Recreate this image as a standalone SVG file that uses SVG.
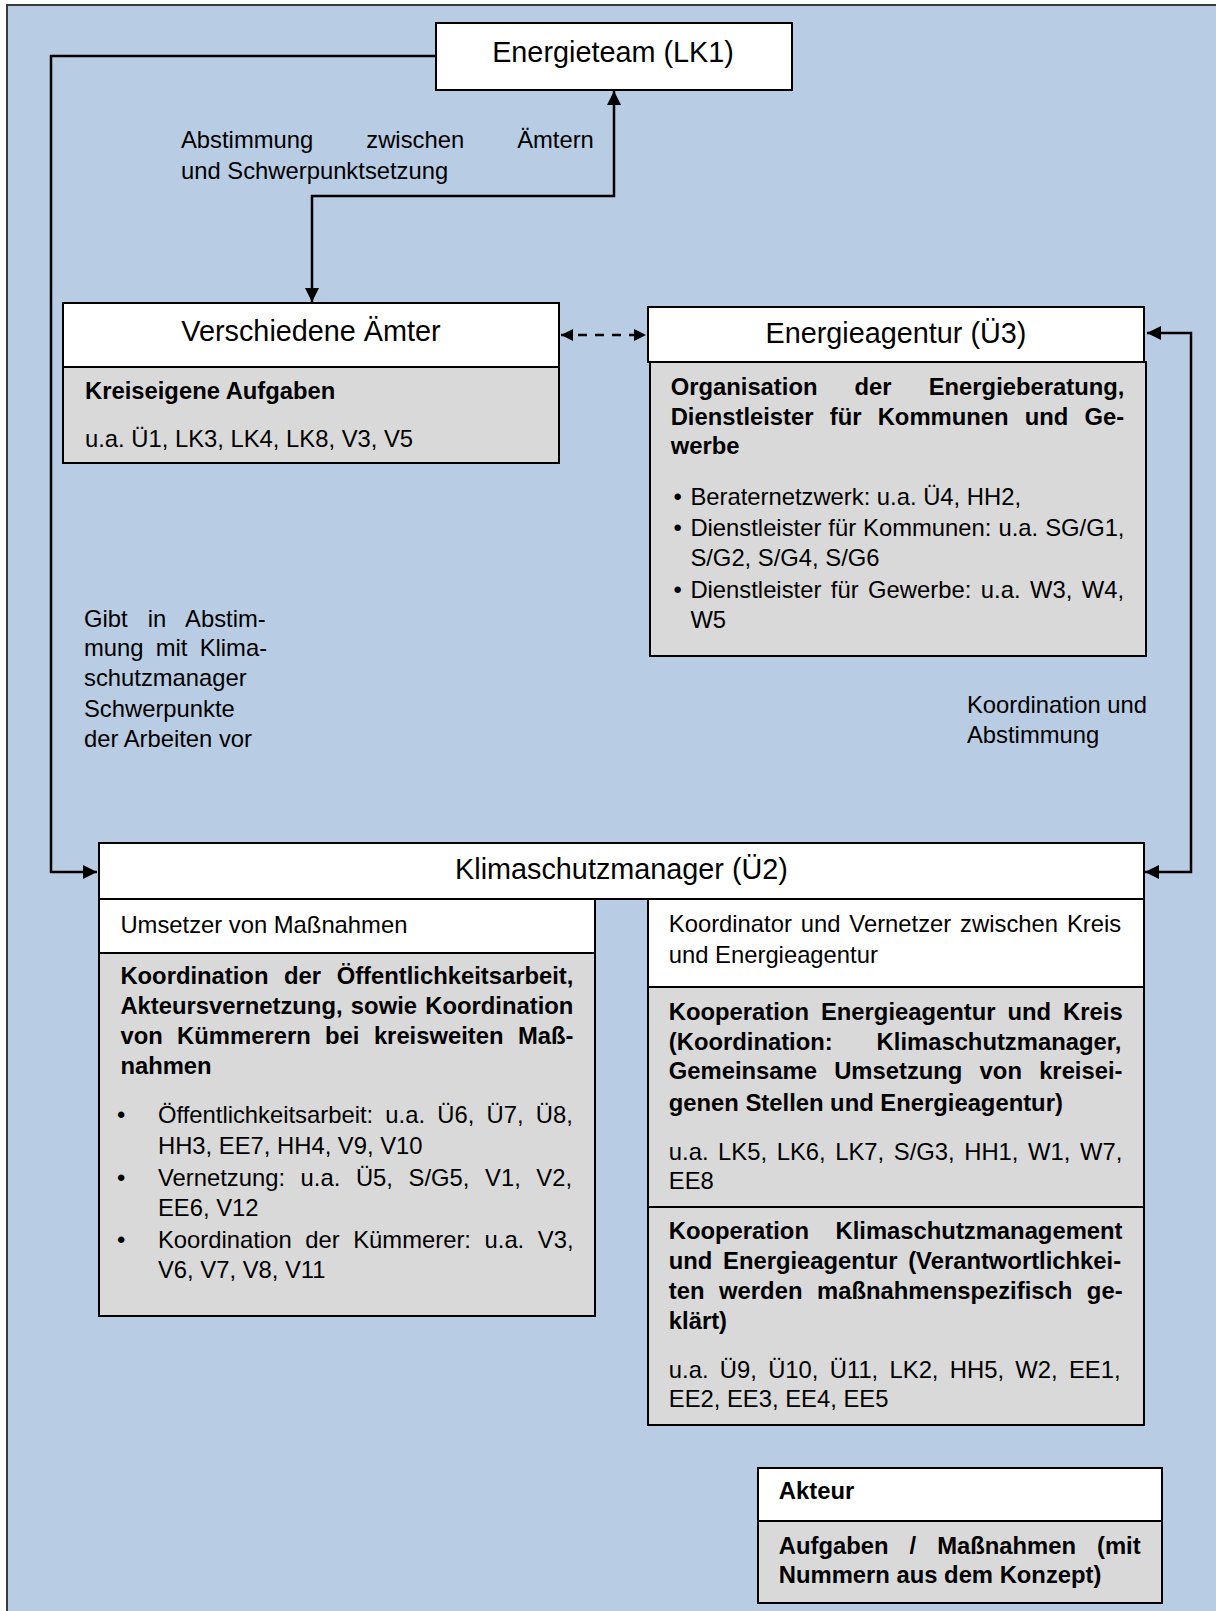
<svg xmlns="http://www.w3.org/2000/svg" width="1216" height="1611" viewBox="0 0 1216 1611">
<style>
text{font-family:"Liberation Sans",Arial,sans-serif;fill:#000}
.t{font-size:28.8px}
.b{font-size:23.8px}
.bb{font-size:23.8px;font-weight:bold}
.mid{text-anchor:middle}
.hd{fill:#fff;stroke:#000;stroke-width:2}
.bd{fill:#d9d9d9;stroke:#000;stroke-width:2}
.ln{fill:none;stroke:#000;stroke-width:2.5}
.ds{fill:none;stroke:#000;stroke-width:2.5;stroke-dasharray:9 8}
</style>
<defs>
<marker id="ah" viewBox="0 0 10 10" refX="10" refY="5" markerWidth="15" markerHeight="14" markerUnits="userSpaceOnUse" orient="auto-start-reverse">
<path d="M0,0 L10,5 L0,10 z" fill="#000"/>
</marker>
<marker id="ahs" viewBox="0 0 10 10" refX="10" refY="5" markerWidth="12" markerHeight="12" markerUnits="userSpaceOnUse" orient="auto-start-reverse">
<path d="M0,0 L10,5 L0,10 z" fill="#000"/>
</marker>
</defs>
<rect x="7" y="5" width="1240" height="1640" fill="#b8cce4" stroke="#3a3a3a" stroke-width="2"/>

<g id="connectors">
<path class="ln" d="M436,56 L51,56 L51,872 L97,872" marker-end="url(#ah)"/>
<path class="ln" d="M312,302 L312,196 L614,196 L614,91" marker-start="url(#ah)" marker-end="url(#ah)"/>
<path class="ds" d="M561,335 L646,335" marker-start="url(#ahs)" marker-end="url(#ahs)"/>
<path class="ln" d="M1147,333 L1191,333 L1191,872 L1145,872" marker-start="url(#ah)" marker-end="url(#ah)"/>
<text class="b" x="181" y="148" word-spacing="46.4">Abstimmung zwischen Ämtern</text>
<text class="b" x="181" y="179">und Schwerpunktsetzung</text>
<text class="b" x="84" y="627" word-spacing="13.5">Gibt in Abstim-</text>
<text class="b" x="84" y="656" word-spacing="5.6">mung mit Klima-</text>
<text class="b" x="84" y="686">schutzmanager</text>
<text class="b" x="84" y="716.5">Schwerpunkte</text>
<text class="b" x="84" y="746.5">der Arbeiten vor</text>
<text class="b" x="967" y="713">Koordination und</text>
<text class="b" x="967" y="743">Abstimmung</text>
</g>

<g id="energieteam">
<rect class="hd" x="436" y="23" width="356" height="67"/>
<text class="t mid" x="613" y="62">Energieteam (LK1)</text>
</g>

<g id="aemter">
<rect class="hd" x="63" y="303" width="496" height="64"/>
<rect class="bd" x="63" y="367" width="496" height="96"/>
<text class="t mid" x="311" y="341">Verschiedene Ämter</text>
<text class="bb" x="85" y="399">Kreiseigene Aufgaben</text>
<text class="b" x="85" y="447">u.a. Ü1, LK3, LK4, LK8, V3, V5</text>
</g>

<g id="energieagentur">
<rect class="hd" x="648" y="307" width="496" height="55"/>
<rect class="bd" x="650" y="362" width="496" height="294"/>
<text class="t mid" x="896" y="343">Energieagentur (Ü3)</text>
<text class="bb" x="670.7" y="395" word-spacing="30.5">Organisation der Energieberatung,</text>
<text class="bb" x="670.7" y="424.5" word-spacing="9.6">Dienstleister für Kommunen und Ge-</text>
<text class="bb" x="670.7" y="454">werbe</text>
<text class="b" x="673.5" y="505">•</text>
<text class="b" x="690.4" y="505">Beraternetzwerk: u.a. Ü4, HH2,</text>
<text class="b" x="673.5" y="536">•</text>
<text class="b" x="690.4" y="536" word-spacing="0.4">Dienstleister für Kommunen: u.a. SG/G1,</text>
<text class="b" x="690.4" y="566">S/G2, S/G4, S/G6</text>
<text class="b" x="673.5" y="598">•</text>
<text class="b" x="690.4" y="598" word-spacing="2.9">Dienstleister für Gewerbe: u.a. W3, W4,</text>
<text class="b" x="690.4" y="628">W5</text>
</g>

<g id="klimaschutzmanager">
<rect class="hd" x="99" y="843" width="1045" height="56"/>
<text class="t mid" x="621.5" y="879">Klimaschutzmanager (Ü2)</text>
</g>

<g id="umsetzer">
<rect class="hd" x="99" y="899" width="496" height="54"/>
<rect class="bd" x="99" y="953" width="496" height="363"/>
<text class="b" x="120.4" y="933">Umsetzer von Maßnahmen</text>
<text class="bb" x="120.4" y="984" word-spacing="9">Koordination der Öffentlichkeitsarbeit,</text>
<text class="bb" x="120.4" y="1014" word-spacing="1.7">Akteursvernetzung, sowie Koordination</text>
<text class="bb" x="120.4" y="1043.5" word-spacing="7.8">von Kümmerern bei kreisweiten Maß-</text>
<text class="bb" x="120.4" y="1074">nahmen</text>
<text class="b" x="117" y="1123">•</text>
<text class="b" x="158" y="1123" word-spacing="5.6">Öffentlichkeitsarbeit: u.a. Ü6, Ü7, Ü8,</text>
<text class="b" x="158" y="1153.5">HH3, EE7, HH4, V9, V10</text>
<text class="b" x="117" y="1186">•</text>
<text class="b" x="158" y="1186" word-spacing="9">Vernetzung: u.a. Ü5, S/G5, V1, V2,</text>
<text class="b" x="158" y="1216">EE6, V12</text>
<text class="b" x="117" y="1248">•</text>
<text class="b" x="158" y="1248" word-spacing="7">Koordination der Kümmerer: u.a. V3,</text>
<text class="b" x="158" y="1278">V6, V7, V8, V11</text>
</g>

<g id="koordinator">
<rect class="hd" x="648" y="899" width="496" height="88"/>
<rect class="bd" x="648" y="987" width="496" height="220"/>
<rect class="bd" x="648" y="1207" width="496" height="218"/>
<text class="b" x="668.8" y="932" word-spacing="2.3">Koordinator und Vernetzer zwischen Kreis</text>
<text class="b" x="668.8" y="963">und Energieagentur</text>
<text class="bb" x="668.8" y="1020" word-spacing="5.4">Kooperation Energieagentur und Kreis</text>
<text class="bb" x="668.8" y="1049.5" word-spacing="37.3">(Koordination: Klimaschutzmanager,</text>
<text class="bb" x="668.8" y="1079" word-spacing="10.6">Gemeinsame Umsetzung von kreisei-</text>
<text class="bb" x="668.8" y="1111">genen Stellen und Energieagentur)</text>
<text class="b" x="668.8" y="1159.5" word-spacing="3">u.a. LK5, LK6, LK7, S/G3, HH1, W1, W7,</text>
<text class="b" x="668.8" y="1188.5">EE8</text>
<text class="bb" x="668.8" y="1239" word-spacing="20">Kooperation Klimaschutzmanagement</text>
<text class="bb" x="668.8" y="1269" word-spacing="4">und Energieagentur (Verantwortlichkei-</text>
<text class="bb" x="668.8" y="1299" word-spacing="8">ten werden maßnahmenspezifisch ge-</text>
<text class="bb" x="668.8" y="1329">klärt)</text>
<text class="b" x="668.8" y="1378" word-spacing="4.7">u.a. Ü9, Ü10, Ü11, LK2, HH5, W2, EE1,</text>
<text class="b" x="668.8" y="1407">EE2, EE3, EE4, EE5</text>
</g>

<g id="legende">
<rect class="hd" x="758" y="1468" width="404" height="53"/>
<rect class="bd" x="758" y="1521" width="404" height="82"/>
<text class="bb" x="778.8" y="1499">Akteur</text>
<text class="bb" x="778.8" y="1553.5" word-spacing="14.4">Aufgaben / Maßnahmen (mit</text>
<text class="bb" x="778.8" y="1583">Nummern aus dem Konzept)</text>
</g>
</svg>
